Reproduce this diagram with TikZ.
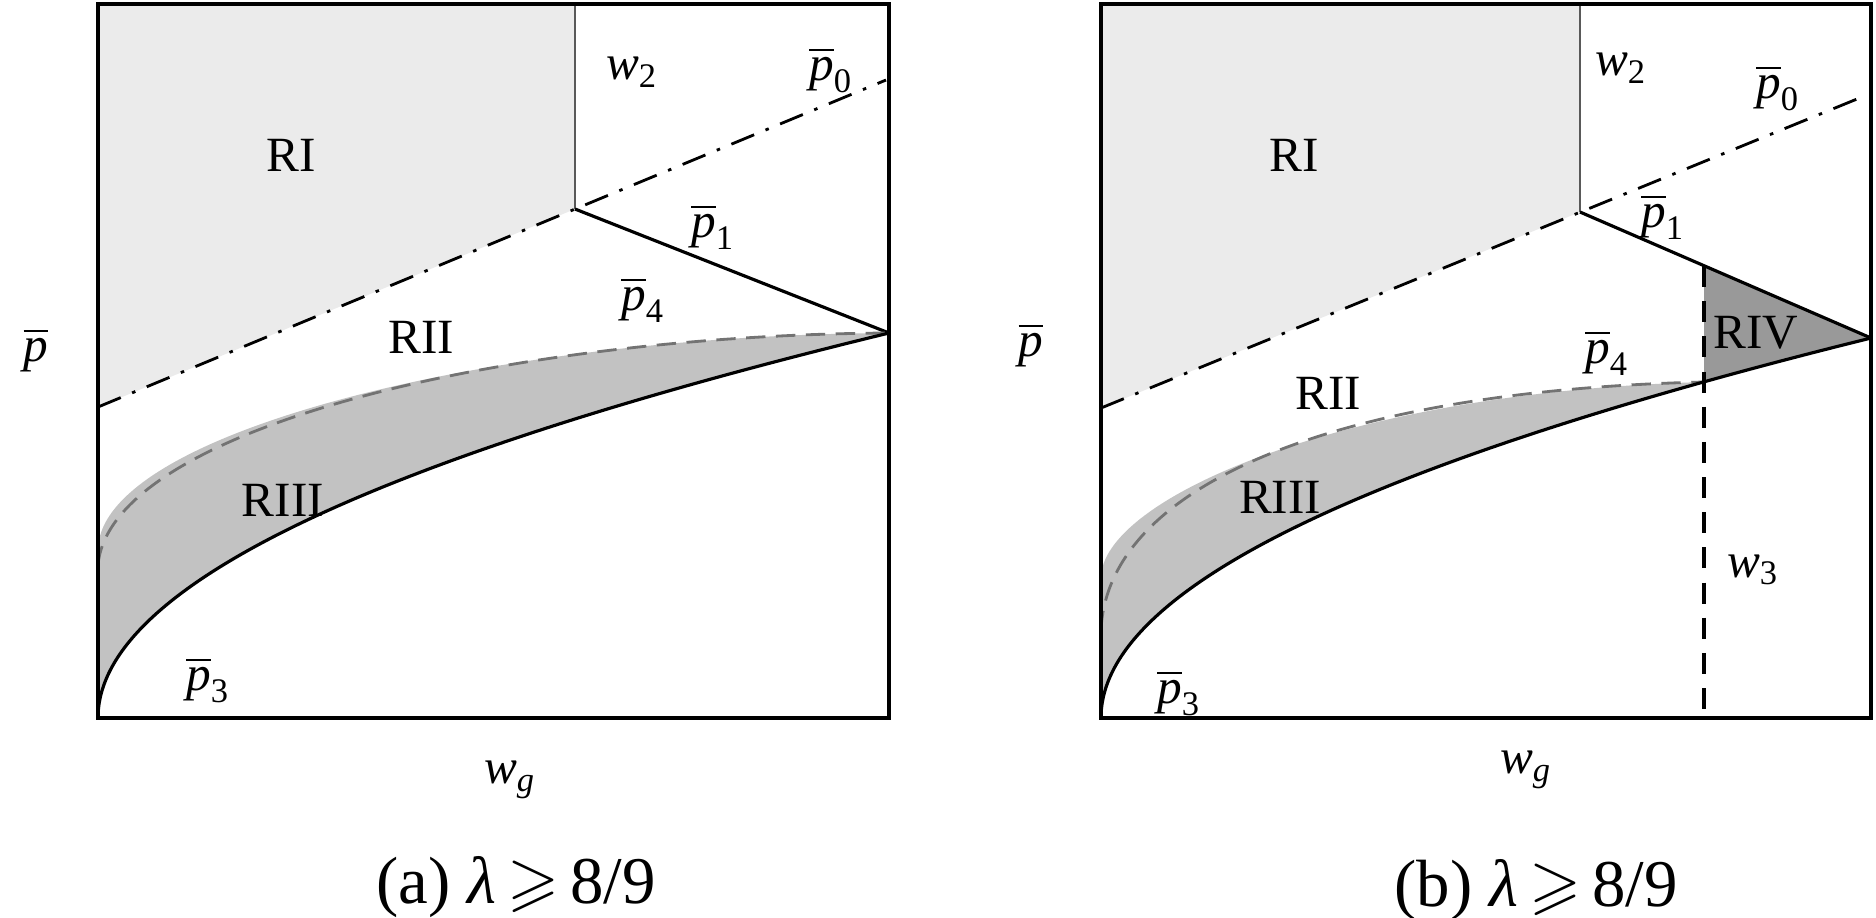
\documentclass[tikz,border=0pt]{standalone}
\usepackage{amsmath}
\usepackage{amssymb}
\usepackage{fontspec}
\setmainfont{Liberation Serif}
\definecolor{lightfill}{gray}{0.92}
\definecolor{midfill}{gray}{0.76}
\definecolor{darkfill}{gray}{0.60}

\begin{document}
\begin{tikzpicture}[x=0.01cm,y=-0.01cm,
  lab/.style={inner sep=0pt,font=\fontsize{14}{16}\selectfont},
  reg/.style={inner sep=0pt,font=\fontsize{14}{16}\selectfont},
  captext/.style={inner sep=0pt,font=\fontsize{19}{22}\selectfont},
  frame/.style={draw=black,line width=1.2pt},
  bound/.style={draw=black,line width=0.9pt},
  wline/.style={draw=black!65,line width=0.6pt},
  dashdot/.style={draw=black,line width=0.8pt,dash pattern=on 7pt off 3.5pt on 1pt off 3.5pt},
  pfour/.style={draw=black!55,line width=0.8pt,dash pattern=on 5.5pt off 3pt},
  wthree/.style={draw=black,line width=1pt,dash pattern=on 6pt off 4pt}]
  \useasboundingbox (0,0) rectangle (1876,917);

  \coordinate (nw1) at (98,4);
  \coordinate (se1) at (889,718);
  \coordinate (sw1) at (98,718);
  \coordinate (t1) at (575,4);
  \coordinate (k1) at (575,209);
  \coordinate (v1) at (889,333);
  \coordinate (d1) at (98,407);
  \coordinate (e1) at (886,80);
  \coordinate (s1) at (98,565);
  \coordinate (f1) at (98,548);

  \coordinate (nw2) at (1101,4);
  \coordinate (se2) at (1871,718);
  \coordinate (sw2) at (1101,718);
  \coordinate (t2) at (1580,4);
  \coordinate (k2) at (1580,212);
  \coordinate (v2) at (1871,338);
  \coordinate (d2) at (1101,408);
  \coordinate (e2) at (1857,99);
  \coordinate (s2) at (1101,630);
  \coordinate (f2) at (1101,578);
  \coordinate (m2) at (1704,382);
  \coordinate (u2) at (1704,266);
  \coordinate (b2) at (1704,718);

  \fill[lightfill] (nw1) -- (t1) -- (k1) -- (d1) -- cycle;
  \fill[midfill] (f1) .. controls (104,430) and (500,335) .. (v1)
    .. controls (362,461) and (98,590) .. (sw1) -- cycle;
  \draw[wline] (t1) -- (k1);
  \draw[dashdot] (d1) -- (e1);
  \draw[bound] (k1) -- (v1);
  \draw[pfour] (s1) .. controls (110,430) and (500,335) .. (v1);
  \draw[bound] (sw1) .. controls (98,590) and (362,461) .. (v1);
  \draw[frame] (nw1) rectangle (se1);

  \fill[lightfill] (nw2) -- (t2) -- (k2) -- (d2) -- cycle;
  \fill[midfill] (f2) .. controls (1101,500) and (1340,392) .. (m2)
    .. controls (1302,494) and (1101,606) .. (sw2) -- cycle;
  \fill[darkfill] (u2) -- (v2) .. controls (1812,353) and (1756,367) .. (m2) -- cycle;
  \draw[wline] (t2) -- (k2);
  \draw[dashdot] (d2) -- (e2);
  \draw[bound] (k2) -- (v2);
  \draw[pfour] (s2) .. controls (1108,480) and (1350,390) .. (m2);
  \draw[bound] (sw2) .. controls (1101,591) and (1358,465) .. (v2);
  \draw[wthree] (u2) -- (b2);
  \draw[frame] (nw2) rectangle (se2);

  \node[reg] (RIa) at (291,155) {RI};
  \node[reg] (RIIa) at (421,337) {RII};
  \node[reg] (RIIIa) at (283,500) {RIII};
  \node[lab] (w2a) at (632,72) {$\textit{w}_{\textrm{2}}$};
  \node[lab] (p0a) at (831,70) {$\overline{\textit{p}}_{\textrm{0}}$};
  \node[lab] (p1a) at (713,227) {$\overline{\textit{p}}_{\textrm{1}}$};
  \node[lab] (p4a) at (643,300) {$\overline{\textit{p}}_{\textrm{4}}$};
  \node[lab] (p3a) at (208,680) {$\overline{\textit{p}}_{\textrm{3}}$};
  \node[lab] (pa) at (36,350) {$\overline{\textit{p}}$};
  \node[lab] (wga) at (510,780) {$\textit{w}_{\textit{g}}$};
  \node[captext] (capa) at (516,887) {(a) \textit{λ}\,$\geqslant$\,8/9};

  \node[reg] (RIb) at (1294,155) {RI};
  \node[reg] (RIIb) at (1328,393) {RII};
  \node[reg] (RIIIb) at (1280,497) {RIII};
  \node[reg] (RIVb) at (1756,333) {RIV};
  \node[lab] (w2b) at (1621,68) {$\textit{w}_{\textrm{2}}$};
  \node[lab] (p0b) at (1778,88) {$\overline{\textit{p}}_{\textrm{0}}$};
  \node[lab] (p1b) at (1663,217) {$\overline{\textit{p}}_{\textrm{1}}$};
  \node[lab] (p4b) at (1607,353) {$\overline{\textit{p}}_{\textrm{4}}$};
  \node[lab] (p3b) at (1179,693) {$\overline{\textit{p}}_{\textrm{3}}$};
  \node[lab] (w3b) at (1753,570) {$\textit{w}_{\textrm{3}}$};
  \node[lab] (pb) at (1031,345) {$\overline{\textit{p}}$};
  \node[lab] (wgb) at (1526,770) {$\textit{w}_{\textit{g}}$};
  \node[captext] (capb) at (1536,890) {(b) \textit{λ}\,$\geqslant$\,8/9};
\end{tikzpicture}
\end{document}
